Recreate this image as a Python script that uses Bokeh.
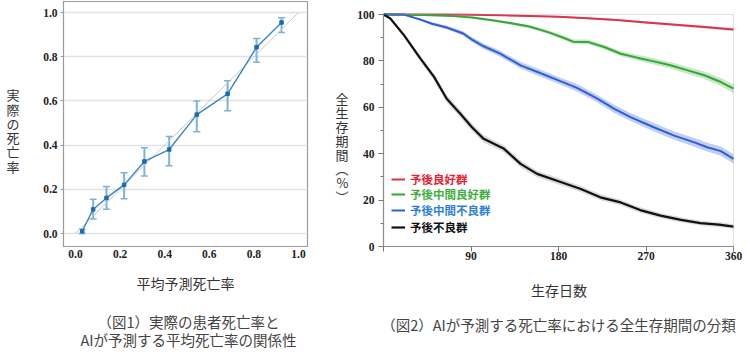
from bokeh.plotting import figure
from bokeh.models import (Whisker, ColumnDataSource, FixedTicker, Legend, LegendItem,
                          Range1d, TeeHead, LinearAxis, BoxAnnotation)
from bokeh.layouts import row
from bokeh.embed import file_html
from bokeh.resources import INLINE

# ---------------- data: figure 1 (calibration) ----------------
pred_mean = [0.03, 0.079, 0.139, 0.218, 0.309, 0.42, 0.544, 0.682, 0.812, 0.924]
obs_rate = [0.01, 0.109, 0.161, 0.22, 0.326, 0.38, 0.538, 0.632, 0.843, 0.955]
obs_upper = [0.02, 0.155, 0.213, 0.275, 0.388, 0.439, 0.599, 0.691, 0.882, 0.976]
obs_lower = [0.0, 0.066, 0.11, 0.157, 0.26, 0.306, 0.46, 0.555, 0.775, 0.91]
diag = [0.0, 1.0]
ticks1 = [0.0, 0.2, 0.4, 0.6, 0.8, 1.0]

# ---------------- data: figure 2 (survival) ----------------
red_days = [0, 30, 60, 90, 120, 150, 180, 210, 240, 270, 300, 330, 360]
red_surv = [100, 100, 100, 99.9, 99.7, 99.4, 99.0, 98.4, 97.6, 96.6, 95.6, 94.6, 93.5]
red_ci = [0, 0.1, 0.1, 0.2, 0.2, 0.3, 0.3, 0.4, 0.4, 0.5, 0.5, 0.6, 0.6]

green_days = [0, 40, 72, 91, 110, 130, 150, 170, 185, 195, 210, 227, 244, 261, 278, 295, 313, 330, 347, 360]
green_surv = [100, 99.8, 99.3, 98.7, 97.6, 96.3, 94.8, 92.3, 90.0, 88.3, 88.2, 86.0, 83.1, 81.4, 79.8, 78.1, 75.9, 73.8, 70.9, 68.0]
green_ci = [0, 0.2, 0.3, 0.4, 0.5, 0.6, 0.7, 0.8, 0.9, 0.9, 1.0, 1.0, 1.1, 1.2, 1.3, 1.4, 1.5, 1.6, 1.7, 1.9]

blue_days = [0, 21, 38, 50, 65, 82, 91, 103, 120, 141, 161, 180, 199, 220, 237, 254, 278, 299, 319, 333, 347, 360]
blue_surv = [100, 100, 97.8, 96.0, 94.4, 91.8, 89.2, 86.3, 83.1, 78.1, 74.8, 71.6, 68.4, 63.7, 59.4, 55.8, 51.4, 47.8, 45.0, 42.8, 41.1, 37.8]
blue_ci = [0, 0.2, 0.5, 0.7, 0.8, 1.0, 1.1, 1.2, 1.3, 1.4, 1.5, 1.5, 1.6, 1.6, 1.7, 1.7, 1.8, 1.8, 1.9, 1.9, 2.0, 2.0]

black_days = [0, 7, 21, 38, 52, 65, 79, 91, 103, 124, 141, 158, 180, 203, 223, 244, 264, 285, 306, 326, 345, 360]
black_surv = [100, 98.3, 91.1, 81.0, 73.1, 63.7, 57.2, 51.4, 46.4, 42.1, 35.6, 31.3, 28.1, 24.8, 21.2, 19.0, 15.7, 13.3, 11.5, 10.1, 9.4, 8.6]
black_ci = [0, 0.5, 1.0, 1.3, 1.5, 1.6, 1.6, 1.6, 1.6, 1.5, 1.5, 1.4, 1.4, 1.3, 1.3, 1.2, 1.2, 1.1, 1.1, 1.0, 1.0, 1.0]

group_names = ["予後良好群", "予後中間良好群", "予後中間不良群", "予後不良群"]
x_ticks2 = [0, 90, 180, 270, 360]
y_ticks2 = [0, 20, 40, 60, 80, 100]
y_minor2 = [10, 30, 50, 70, 90]

TICK_FONT = "Liberation Serif"
JP = "Noto Sans CJK JP"
GRAY = "#9a9a9a"


def text_axis(fig, side, pos, text, size, standoff, line_height, color="#333333"):
    """An extra axis with a single tick whose label carries a text (used for titles)."""
    ax = LinearAxis(ticker=FixedTicker(ticks=[pos]), major_label_overrides={pos: text},
                    axis_line_color=None, major_tick_line_color=None,
                    minor_tick_line_color=None, major_label_standoff=standoff,
                    major_label_text_font=JP, major_label_text_font_size=size,
                    major_label_text_line_height=line_height,
                    major_label_text_color=color, major_label_orientation="horizontal")
    fig.add_layout(ax, side)
    return ax


# ================= figure 1 =================
# frame in page pixels: x 63..307, y 1..246 ; 0->75px, 1->298px ; y 0->233, 1->12
def lx(px):
    return (px - 75) / 223.0


def ly(py):
    return (233 - py) / 221.0


p1 = figure(width=320, height=361, output_backend="svg", toolbar_location=None,
            x_range=Range1d(lx(63), lx(307)), y_range=Range1d(ly(246), ly(1)),
            min_border_left=63, min_border_right=13, min_border_top=1, min_border_bottom=115)
p1.outline_line_color = GRAY
p1.outline_line_width = 1.2
p1.xgrid.grid_line_color = None
p1.ygrid.grid_line_color = "#e2e2e2"
p1.ygrid.grid_line_width = 1.5
for ax in (p1.xaxis, p1.yaxis):
    ax.axis_line_color = GRAY
    ax.major_label_text_font = TICK_FONT
    ax.major_label_text_font_style = "bold"
    ax.major_label_text_font_size = "11.5px"
    ax.major_label_text_color = "#222222"
    ax.minor_tick_line_color = None
    ax.major_tick_line_color = GRAY
    ax.major_tick_in = 0
p1.xaxis.ticker = FixedTicker(ticks=ticks1)
p1.yaxis.ticker = FixedTicker(ticks=ticks1)
p1.xaxis.major_tick_out = 0
p1.xaxis.major_label_standoff = 3
p1.yaxis.major_tick_out = 3
p1.yaxis.major_label_standoff = 3
p1.xaxis.major_label_overrides = {t: f"{t:.1f}" for t in ticks1}
p1.yaxis.major_label_overrides = {t: f"{t:.1f}" for t in ticks1}
p1.xaxis.axis_label = "平均予測死亡率"
p1.xaxis.axis_label_text_font = JP
p1.xaxis.axis_label_text_font_style = "normal"
p1.xaxis.axis_label_text_font_size = "14px"
p1.xaxis.axis_label_text_color = "#333333"
p1.xaxis.axis_label_standoff = 12

p1.line(diag, diag, line_color="#c8c8c8", line_width=1)
src1 = ColumnDataSource(dict(x=pred_mean, y=obs_rate, upper=obs_upper, lower=obs_lower))
p1.add_layout(Whisker(base="x", upper="upper", lower="lower", source=src1,
                      line_color="#7db3da", line_width=2,
                      upper_head=TeeHead(size=7, line_color="#7db3da", line_width=1.5),
                      lower_head=TeeHead(size=7, line_color="#7db3da", line_width=1.5)))
p1.line("x", "y", source=src1, line_color="#3a86c4", line_width=1.4)
p1.scatter("x", "y", source=src1, marker="square", size=3.5, color="#1e6bb0")

text_axis(p1, "left", ly(130), "実\n際\nの\n死\n亡\n率", "13px", 15, 0.75)
text_axis(p1, "below", lx(188), "（図1）実際の患者死亡率と\nAIが予測する平均死亡率の関係性",
          "14.5px", 9, 0.86, color="#444444")

# ================= figure 2 =================
# frame in page pixels: x 383..734, y 1..246 ; day 0->383, 360->733 ; 100%->14, 0%->246
def rx(px):
    return (px - 383) / 350.0 * 360


def ry(py):
    return (246 - py) / 232.0 * 100


p2 = figure(width=430, height=361, output_backend="svg", toolbar_location=None,
            x_range=Range1d(0, rx(734)), y_range=Range1d(0, ry(1)),
            min_border_left=63, min_border_right=16, min_border_top=1, min_border_bottom=115)
p2.outline_line_color = None
p2.grid.grid_line_color = None
for ax in (p2.xaxis, p2.yaxis):
    ax.axis_line_color = "#8a8a8a"
    ax.axis_line_width = 1.2
    ax.major_label_text_font = TICK_FONT
    ax.major_label_text_font_style = "bold"
    ax.major_label_text_font_size = "11.5px"
    ax.major_label_text_color = "#222222"
    ax.major_tick_line_color = "#777777"
    ax.major_tick_in = 0
    ax.major_tick_out = 5
    ax.minor_tick_in = 0
p2.xaxis.ticker = FixedTicker(ticks=x_ticks2)
p2.xaxis.bounds = (0, 360)
p2.xaxis.major_label_overrides = {0: ""}
p2.xaxis.minor_tick_line_color = None
p2.xaxis.major_label_standoff = 0
p2.xaxis.axis_label = "生存日数"
p2.xaxis.axis_label_text_font = JP
p2.xaxis.axis_label_text_font_style = "normal"
p2.xaxis.axis_label_text_font_size = "14px"
p2.xaxis.axis_label_text_color = "#333333"
p2.xaxis.axis_label_standoff = 17
p2.yaxis.ticker = FixedTicker(ticks=y_ticks2, minor_ticks=y_minor2)
p2.yaxis.bounds = (0, 100)
p2.yaxis.minor_tick_out = 3
p2.yaxis.minor_tick_line_color = "#777777"
p2.yaxis.major_label_standoff = 4
p2.add_layout(BoxAnnotation(left=0, right=360, bottom=0, top=100, fill_alpha=0,
                            line_color=GRAY, line_width=1.2))

series = [
    (red_days, red_surv, red_ci, "#d8344c", "#f4c2c8", 2.0, "#e8202f"),
    (green_days, green_surv, green_ci, "#35a635", "#c2e6c2", 2.0, "#3cae3c"),
    (blue_days, blue_surv, blue_ci, "#2f5fd6", "#b9c9f1", 2.0, "#2f7fd6"),
    (black_days, black_surv, black_ci, "#111111", "#d6d6d6", 2.2, "#111111"),
]
line_renderers = []
for days, surv, ci, col, band, lw, _ in series:
    lo = [s - c for s, c in zip(surv, ci)]
    hi = [min(100, s + c) for s, c in zip(surv, ci)]
    p2.varea(x=days, y1=lo, y2=hi, fill_color=band, fill_alpha=0.9)
for days, surv, ci, col, band, lw, _ in series:
    line_renderers.append(p2.line(days, surv, line_color=col, line_width=lw))

legend_rows_py = [178, 193, 209, 226]
for name, r, (_, _, _, col, _, _, tcol), py in zip(group_names, line_renderers, series, legend_rows_py):
    lg = Legend(items=[LegendItem(label=name, renderers=[r])],
                location=(8, 246 - py - 9), orientation="vertical",
                glyph_width=14, glyph_height=12, label_height=12, label_standoff=5,
                padding=0, margin=0, spacing=0,
                border_line_color=None, background_fill_alpha=0,
                label_text_font=JP, label_text_font_style="bold",
                label_text_font_size="11.5px", label_text_color=tcol)
    p2.add_layout(lg)

text_axis(p2, "left", ry(147), "全\n生\n存\n期\n間\n︵\n%\n︶", "13px", 0, 0.73)
text_axis(p2, "below", rx(558), "（図2）AIが予測する死亡率における全生存期間の分類",
          "14.5px", 5, 1.2, color="#444444")

layout = row(p1, p2)
open("out.html", "w").write(file_html(layout, INLINE))
